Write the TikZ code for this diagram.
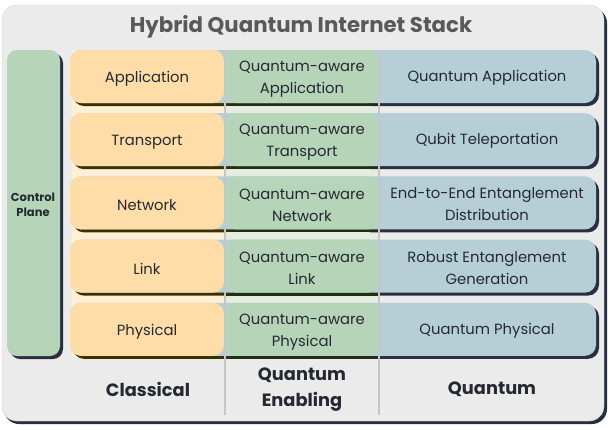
\documentclass[tikz,border=0pt]{standalone}
\usepackage{fontspec}
\setmainfont{Poppins}

\definecolor{bgpanel}{HTML}{EBEBEB}
\definecolor{shadowdark}{HTML}{283040}
\definecolor{shadowolive}{HTML}{3A3000}
\definecolor{shadowgreen}{HTML}{1E3012}
\definecolor{classfill}{HTML}{FEDDA8}
\definecolor{classtint}{HTML}{FDF0D6}
\definecolor{enabfill}{HTML}{B5D4B8}
\definecolor{enabtint}{HTML}{E6EDDF}
\definecolor{quantfill}{HTML}{B6CFD7}
\definecolor{divgray}{HTML}{C6C6C6}
\definecolor{inktext}{HTML}{252932}
\definecolor{titlegray}{HTML}{595959}

\begin{document}
\begin{tikzpicture}[
    x=1pt, y=-1pt,
    every node/.style={font=\fontsize{14.8}{22}\selectfont, text=inktext, align=center},
    layertext/.style={font=\fontsize{14.8}{22}\selectfont},
    footlabel/.style={font=\fontsize{17.8}{26}\selectfont\bfseries},
    divider/.style={draw=divgray, line width=2.2pt}
]
\useasboundingbox (0,0) rectangle (612,426);

% ===== OUTER PANEL =====
\fill[shadowdark, rounded corners=15] (4,8) rectangle (607,424);
\fill[bgpanel, draw=gray!35, rounded corners=15] (2,5) rectangle (604,421);
\node[font=\fontsize{21.3}{26}\selectfont\bfseries, text=titlegray] (title) at (301,26.5) {Hybrid Quantum Internet Stack};

% ===== CONTROL PLANE =====
\fill[shadowdark, rounded corners=10] (10,53) rectangle (63,359);
\fill[enabfill, rounded corners=10] (7,50) rectangle (60,356);
\node[font=\fontsize{11.5}{15.5}\selectfont\bfseries] (ctrl) at (33,205) {Control\\Plane};

% --- column tints behind the rows ---
\fill[classtint] (72,50) rectangle (225,357);
\fill[enabtint] (225,50) rectangle (379,357);

% ===== LAYERS =====
\foreach \i/\cname/\ename/\qname in {
    0/Application/{Quantum-aware\\Application}/{Quantum Application},
    1/Transport/{Quantum-aware\\Transport}/{Qubit Teleportation},
    2/Network/{Quantum-aware\\Network}/{End-to-End Entanglement\\Distribution},
    3/Link/{Quantum-aware\\Link}/{Robust Entanglement\\Generation},
    4/Physical/{Quantum-aware\\Physical}/{Quantum Physical}}{
  \pgfmathsetmacro{\rowtop}{50+63.2*\i}
  \pgfmathsetmacro{\rowbot}{\rowtop+53}
  \pgfmathsetmacro{\rowmid}{\rowtop+29}
  % --- shadows ---
  \fill[shadowdark, rounded corners=11] (360,\rowtop+3) rectangle (599,\rowbot+3);
  \fill[shadowgreen] (224,\rowtop+3) rectangle (380,\rowbot+3);
  \fill[shadowolive, rounded corners=11] (73,\rowtop+3) rectangle (236,\rowbot+3);
  % --- boxes ---
  \fill[quantfill, rounded corners=11] (70,\rowtop) rectangle (596,\rowbot);
  \fill[enabfill, rounded corners=10] (226,\rowtop) rectangle (378,\rowbot);
  \fill[classfill, rounded corners=11] (70,\rowtop) rectangle (224,\rowbot);
  % --- labels ---
  \node[layertext] (cl\i) at (147,\rowmid) {\cname};
  \node[layertext] (qe\i) at (302,\rowmid) {\ename};
  \node[layertext] (qu\i) at (487,\rowmid-1) {\qname};
}

% --- column dividers ---
\draw[divider] (225,50) -- (225,415);
\draw[divider] (379,50) -- (379,415);

% ===== COLUMN NAMES =====
\node[footlabel] (classical) at (148,389.5) {Classical};
\node[footlabel] (enabling) at (302,389.5) {Quantum\\Enabling};
\node[footlabel] (quantum) at (492,389.5) {Quantum};

\end{tikzpicture}
\end{document}
